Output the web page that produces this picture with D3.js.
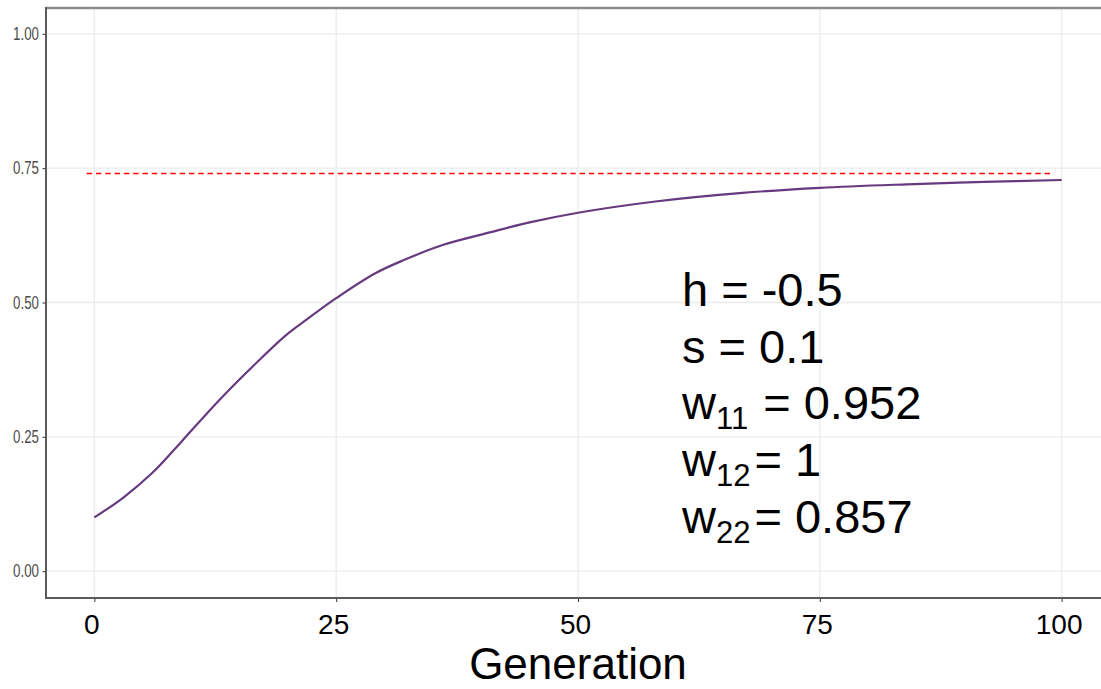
<!DOCTYPE html>
<html>
<head>
<meta charset="utf-8">
<script src="https://d3js.org/d3.v7.min.js"></script>
<style>
  html, body { margin: 0; background: #fff; overflow: hidden; }
  svg { display: block; overflow: hidden; }
  text { font-family: "Liberation Sans", Arial, sans-serif; }
</style>
</head>
<body>
<div class="chart"></div>
<script>
// values
var generations = [0, 3, 6, 9, 13, 17, 20, 22, 25, 29, 32, 36, 41, 45, 50, 58, 67, 75, 84, 92, 100];
var freqP = [0.100, 0.137, 0.183, 0.241, 0.320, 0.392, 0.442, 0.469, 0.508, 0.554, 0.579, 0.607, 0.631, 0.649, 0.667, 0.688, 0.704, 0.7135, 0.720, 0.7245, 0.728];
var equilibrium = 0.74;
var equilibriumSpan = [-0.8, 99.2];
var xTicks = [0, 25, 50, 75, 100];
var yTicks = [0, 0.25, 0.5, 0.75, 1];
var annotation = [
  { main: "h = -0.5" },
  { main: "s = 0.1" },
  { main: "w", sub: "11", rest: " = 0.952" },
  { main: "w", sub: "12", rest: "= 1" },
  { main: "w", sub: "22", rest: "= 0.857" }
];

var svgWidth = 1101;
var svgHeight = 689;

var panel = { left: 46, top: 7, bottom: 598 };

var svg = d3.select(".chart")
  .append("svg")
  .attr("width", svgWidth)
  .attr("height", svgHeight);

var xScale = d3.scaleLinear()
  .domain([-5, 105])
  .range([panel.left, 1110]);

var yScale = d3.scaleLinear()
  .domain([-0.05, 1.05])
  .range([panel.bottom, panel.top]);

// grid lines
svg.append("g")
  .selectAll("line")
  .data(xTicks)
  .enter()
  .append("line")
  .attr("x1", d => xScale(d))
  .attr("x2", d => xScale(d))
  .attr("y1", panel.top)
  .attr("y2", panel.bottom)
  .attr("stroke", "#ebebeb")
  .attr("stroke-width", 1.3);

svg.append("g")
  .selectAll("line")
  .data(yTicks)
  .enter()
  .append("line")
  .attr("x1", panel.left)
  .attr("x2", svgWidth)
  .attr("y1", d => yScale(d))
  .attr("y2", d => yScale(d))
  .attr("stroke", "#ebebeb")
  .attr("stroke-width", 1.3);

// top border of panel
svg.append("line")
  .attr("x1", panel.left)
  .attr("x2", svgWidth)
  .attr("y1", panel.top + 1)
  .attr("y2", panel.top + 1)
  .attr("stroke", "#8c8c8c")
  .attr("stroke-width", 2.5);

// axes
var bottomAxis = d3.axisBottom(xScale)
  .tickValues(xTicks)
  .tickSize(4)
  .tickSizeOuter(0)
  .tickPadding(12)
  .tickFormat(d3.format("d"));

var leftAxis = d3.axisLeft(yScale)
  .tickValues(yTicks)
  .tickSize(3.5)
  .tickSizeOuter(0)
  .tickFormat(d3.format(".2f"));

var xAxisG = svg.append("g")
  .attr("transform", `translate(0, ${panel.bottom})`)
  .call(bottomAxis);

xAxisG.select(".domain").remove();
xAxisG.selectAll(".tick line").attr("stroke", "#333");
xAxisG.selectAll("text")
  .attr("fill", "#000")
  .attr("dx", "-3")
  .style("font-size", "28px");

var yAxisG = svg.append("g")
  .attr("transform", `translate(${panel.left}, 0)`)
  .call(leftAxis);

yAxisG.select(".domain").remove();
yAxisG.selectAll(".tick line").attr("stroke", "#333");
yAxisG.selectAll("text")
  .attr("fill", "#4d4d4d")
  .attr("x", -9.5)
  .attr("transform", "scale(0.74,1)")
  .style("font-size", "18px");

// axis lines
svg.append("line")
  .attr("x1", panel.left)
  .attr("x2", panel.left)
  .attr("y1", panel.top)
  .attr("y2", panel.bottom + 1)
  .attr("stroke", "#5a5a5a")
  .attr("stroke-width", 2);

svg.append("line")
  .attr("x1", panel.left)
  .attr("x2", svgWidth)
  .attr("y1", panel.bottom)
  .attr("y2", panel.bottom)
  .attr("stroke", "#5a5a5a")
  .attr("stroke-width", 2);

// equilibrium dashed line
svg.append("line")
  .attr("x1", xScale(equilibriumSpan[0]))
  .attr("x2", xScale(equilibriumSpan[1]))
  .attr("y1", yScale(equilibrium))
  .attr("y2", yScale(equilibrium))
  .attr("stroke", "#ff0000")
  .attr("stroke-width", 1.5)
  .attr("stroke-dasharray", "5.5,3.8");

// allele frequency curve
var line = d3.line()
  .x((d, i) => xScale(generations[i]))
  .y(d => yScale(d))
  .curve(d3.curveCatmullRom.alpha(0.5));

svg.append("path")
  .datum(freqP)
  .attr("d", line)
  .attr("fill", "none")
  .attr("stroke", "#673a7f")
  .attr("stroke-width", 2.2);

// axis title
svg.append("text")
  .attr("x", 578)
  .attr("y", 679)
  .attr("text-anchor", "middle")
  .style("font-size", "44px")
  .attr("fill", "#000")
  .text("Generation");

// parameter annotation
var annot = svg.append("g")
  .attr("transform", "translate(682, 0)");

annotation.forEach(function (row, i) {
  var t = annot.append("text")
    .attr("x", 0)
    .attr("y", 306 + i * 56.7)
    .style("font-size", "47px")
    .attr("fill", "#000");
  t.append("tspan").text(row.main);
  if (row.sub) {
    t.append("tspan")
      .attr("dy", 10)
      .style("font-size", "31px")
      .text(row.sub);
    t.append("tspan")
      .attr("dy", -10)
      .attr("dx", row.rest.charAt(0) === " " ? 2 : 4)
      .text(row.rest);
  }
});
</script>
</body>
</html>
